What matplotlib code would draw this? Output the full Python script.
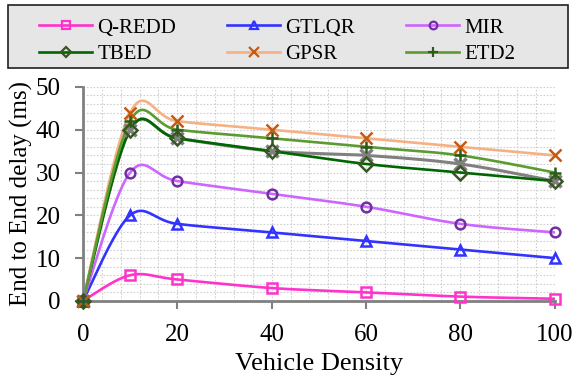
import numpy as np
import matplotlib
matplotlib.use("Agg")
import matplotlib.pyplot as plt
from matplotlib.patches import Rectangle
from matplotlib.ticker import MultipleLocator

plt.rcParams["font.family"] = ["Liberation Serif", "DejaVu Serif"]

density = [0, 10, 20, 40, 60, 80, 100]
q_redd = [0, 6, 5, 3, 2, 1, 0.5]
gtlqr = [0, 20, 18, 16, 14, 12, 10]
mir = [0, 30, 28, 25, 22, 18, 16]
tbed = [0, 40, 38, 35, 32, 30, 28]
gpsr = [0, 44, 42, 40, 38, 36, 34]
etd2 = [0, 42, 40, 38, 36, 34, 30]
extra = [0, 40, 38, 35, 34, 32, 28]


def smooth(x, y, n=40, t=0.5):
    # cardinal spline through the points (spreadsheet-style smoothed line)
    x = np.asarray(x, float); y = np.asarray(y, float)
    px = np.concatenate([[x[0]], x, [x[-1]]])
    py = np.concatenate([[y[0]], y, [y[-1]]])
    xs, ys = [], []
    for i in range(1, len(px) - 2):
        p0 = np.array([px[i - 1], py[i - 1]]); p1 = np.array([px[i], py[i]])
        p2 = np.array([px[i + 1], py[i + 1]]); p3 = np.array([px[i + 2], py[i + 2]])
        c1 = p1 + (p2 - p0) * t / 3
        c2 = p2 - (p3 - p1) * t / 3
        s = np.linspace(0, 1, n)[:, None]
        b = (1 - s) ** 3 * p1 + 3 * (1 - s) ** 2 * s * c1 + 3 * (1 - s) * s ** 2 * c2 + s ** 3 * p2
        xs.append(b[:, 0]); ys.append(b[:, 1])
    return np.concatenate(xs), np.concatenate(ys)


series = [
    ("Q-REDD", q_redd, "#ff33cc", "#ff33cc", "s"),
    ("GTLQR", gtlqr, "#3333ff", "#3333ff", "^"),
    ("MIR", mir, "#cc66ff", "#7030a0", "o"),
    ("TBED", tbed, "#006600", "#385723", "D"),
    ("GPSR", gpsr, "#f4b183", "#c55a11", "x"),
    ("ETD2", etd2, "#5b9b32", "#2d5a1b", "+"),
]

fig = plt.figure(figsize=(5.76, 3.78), dpi=100)
ax = fig.add_axes([0.144, 0.204, 0.819, 0.566])

# unlabelled grey series drawn under the rest
gx, gy = smooth(density, extra)
ax.plot(gx, gy, color="#808080", lw=2.2, zorder=2)
ax.plot(density, extra, ls="none", marker="x", ms=9, mew=2.5, color="#808080",
        zorder=3, clip_on=False)

handles = []
for name, vals, lc, mc, mk in series:
    sx, sy = smooth(density, vals)
    ax.plot(sx, sy, color=lc, lw=1.9, zorder=2)
    hollow = mk in "s^oD"
    ms = 7 if hollow else 8.5
    ax.plot(density, vals, ls="none", marker=mk, ms=ms, mew=1.8,
            mfc="none" if hollow else mc, mec=mc, zorder=4, clip_on=False)
    h, = ax.plot([], [], color=lc, lw=1.9, marker=mk, ms=ms - 1.5, mew=1.6,
                 mfc="none" if hollow else mc, mec=mc)
    handles.append(h)

ax.set_xlim(0, 100)
ax.set_ylim(0, 50)
ax.xaxis.set_major_locator(MultipleLocator(20))
ax.xaxis.set_minor_locator(MultipleLocator(4))
ax.yaxis.set_major_locator(MultipleLocator(10))
ax.yaxis.set_minor_locator(MultipleLocator(2))
ax.grid(which="both", color="#d0d0d0", ls=(0, (1.5, 1.5)), lw=0.8)
ax.set_axisbelow(True)
for s in ["top", "right"]:
    ax.spines[s].set_visible(False)
for s in ["left", "bottom"]:
    ax.spines[s].set_color("#808080")
    ax.spines[s].set_linewidth(2)
ax.tick_params(which="major", length=6, width=1.5, color="#808080", labelsize=18)
ax.tick_params(axis="x", pad=11)
ax.tick_params(axis="y", pad=10)
ax.tick_params(which="minor", length=0)
ax.set_xlabel("Vehicle Density", fontsize=19, labelpad=5)
ax.set_ylabel("End to End delay (ms)", fontsize=18, labelpad=2)

# legend box drawn separately so the entries can sit inset from its edges
fig.patches.append(Rectangle((8 / 576, 1 - 68 / 378), 560 / 576, 63 / 378,
                             transform=fig.transFigure, facecolor="#e6e6e6",
                             edgecolor="#202020", lw=1.2, zorder=0))
# legend fills column-first, so reorder to read row by row
order = [0, 3, 1, 4, 2, 5]
leg = fig.legend([handles[i] for i in order], [series[i][0] for i in order],
                 ncol=3, loc="upper left", fontsize=15, frameon=False,
                 handlelength=2.55, handletextpad=0.25, borderpad=0,
                 labelspacing=0.35, columnspacing=2.45, borderaxespad=0,
                 bbox_to_anchor=(39 / 576, 1 - 18 / 378),
                 bbox_transform=fig.transFigure)

fig.savefig("out.png", dpi=100)
